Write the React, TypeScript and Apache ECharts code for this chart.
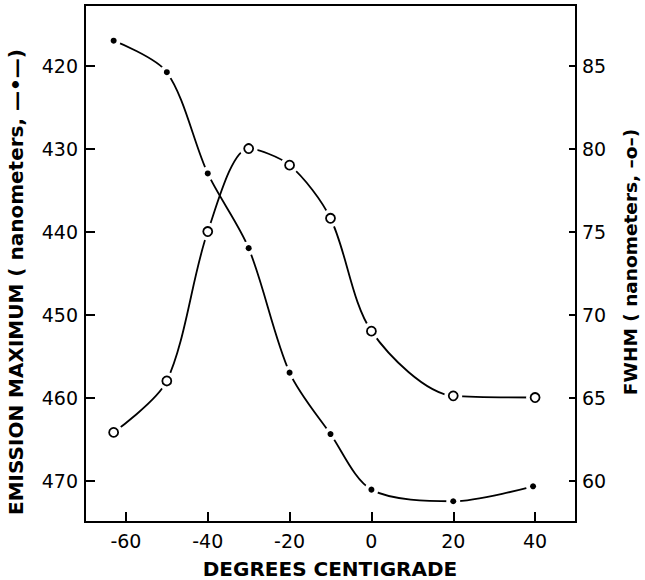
import React, { useEffect, useRef } from "react";
import * as echarts from "echarts";

// Axis ticks
const xTicks = [-60, -40, -20, 0, 20, 40];
const emissionTicks = [420, 430, 440, 450, 460, 470];
const fwhmTicks = [60, 65, 70, 75, 80, 85];

// Emission maximum (nm), filled dots, left axis
const emissionTemps = [-63, -50, -40, -30, -20, -10, 0, 20, 39.5];
const emissionMax = [417.0, 420.8, 433.0, 442.0, 457.0, 464.4, 471.1, 472.5, 470.7];

// FWHM (nm), open circles, right axis
const fwhmTemps = [-63, -50, -40, -30, -20, -10, 0, 20, 40];
const fwhmValues = [62.9, 66.0, 75.0, 80.0, 79.0, 75.8, 69.0, 65.1, 65.0];

const FONT = "DejaVu Sans";

export default function App() {
  const ref = useRef<HTMLDivElement>(null);

  useEffect(() => {
    document.body.style.margin = "0";
    const chart = echarts.init(ref.current!, null, { renderer: "svg" });
    const emData = emissionTemps.map((t, i) => [t, emissionMax[i]]);
    const fwData = fwhmTemps.map((t, i) => [t, fwhmValues[i]]);
    const tickLabel = { color: "#000", fontSize: 19, fontFamily: FONT };

    chart.setOption({
      animation: false,
      backgroundColor: "#fff",
      grid: {
        left: 85,
        right: 69,
        top: 5,
        bottom: 58,
        show: true,
        borderColor: "#000",
        borderWidth: 2,
        backgroundColor: "transparent",
      },
      xAxis: {
        type: "value",
        min: -70,
        max: 50,
        axisLine: { onZero: false, lineStyle: { color: "#000", width: 2 } },
        axisTick: { inside: true, length: 10, lineStyle: { color: "#000", width: 2 }, customValues: xTicks },
        axisLabel: { ...tickLabel, margin: 9, customValues: xTicks },
        splitLine: { show: false },
      },
      yAxis: [
        {
          type: "value",
          position: "left",
          inverse: true,
          min: 412.7,
          max: 475,
          axisLine: { show: true, onZero: false, lineStyle: { color: "#000", width: 2 } },
          axisTick: { show: true, inside: true, length: 10, lineStyle: { color: "#000", width: 2 }, customValues: emissionTicks },
          axisLabel: { ...tickLabel, margin: 7, customValues: emissionTicks },
          splitLine: { show: false },
        },
        {
          type: "value",
          position: "right",
          min: 57.5,
          max: 88.65,
          axisLine: { show: true, onZero: false, lineStyle: { color: "#000", width: 2 } },
          axisTick: { show: true, inside: true, length: 7, lineStyle: { color: "#000", width: 2 }, customValues: fwhmTicks },
          axisLabel: { ...tickLabel, margin: 6, customValues: fwhmTicks },
          splitLine: { show: false },
        },
      ],
      graphic: [
        {
          type: "text",
          x: 330,
          y: 569,
          style: {
            text: "DEGREES CENTIGRADE",
            font: `bold 20px "${FONT}"`,
            fill: "#000",
            textAlign: "center",
            textVerticalAlign: "middle",
          },
        },
        {
          type: "text",
          x: 16,
          y: 282,
          rotation: Math.PI / 2,
          style: {
            text: "EMISSION MAXIMUM ( nanometers, —•—)",
            font: `bold 20px "${FONT}"`,
            fill: "#000",
            textAlign: "center",
            textVerticalAlign: "middle",
          },
        },
        {
          type: "text",
          x: 630,
          y: 262,
          rotation: Math.PI / 2,
          style: {
            text: "FWHM ( nanometers, –o–)",
            font: `bold 18.5px "${FONT}"`,
            fill: "#000",
            textAlign: "center",
            textVerticalAlign: "middle",
          },
        },
      ],
      series: [
        {
          type: "line",
          yAxisIndex: 0,
          data: emData,
          smooth: 0.3,
          showSymbol: false,
          z: 2,
          lineStyle: { color: "#000", width: 1.8 },
          silent: true,
        },
        {
          type: "line",
          yAxisIndex: 1,
          data: fwData,
          smooth: 0.3,
          showSymbol: false,
          z: 2,
          lineStyle: { color: "#000", width: 1.8 },
          silent: true,
        },
        {
          type: "scatter",
          yAxisIndex: 0,
          data: emData,
          symbol: "circle",
          symbolSize: 14,
          itemStyle: { color: "#fff", opacity: 1 },
          z: 3,
          silent: true,
        },
        {
          type: "scatter",
          yAxisIndex: 1,
          data: fwData,
          symbol: "circle",
          symbolSize: 18,
          itemStyle: { color: "#fff", opacity: 1 },
          z: 3,
          silent: true,
        },
        {
          type: "scatter",
          yAxisIndex: 0,
          data: emData,
          symbol: "circle",
          symbolSize: 6,
          itemStyle: { color: "#000", opacity: 1 },
          z: 4,
          silent: true,
        },
        {
          type: "scatter",
          yAxisIndex: 1,
          data: fwData,
          symbol: "circle",
          symbolSize: 9,
          itemStyle: { color: "#fff", borderColor: "#000", borderWidth: 1.8, opacity: 1 },
          z: 4,
          silent: true,
        },
      ],
    });
    return () => chart.dispose();
  }, []);

  return (
    <div
      ref={ref}
      style={{ width: 645, height: 580, position: "absolute", left: 0, top: 0 }}
    />
  );
}
